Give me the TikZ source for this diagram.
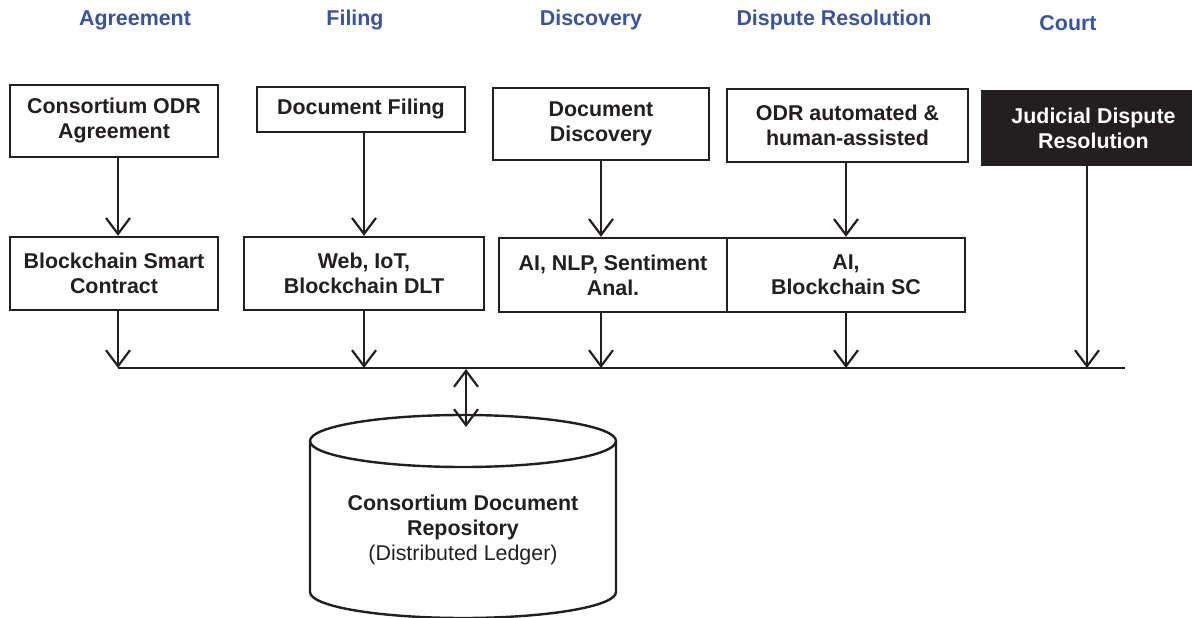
\documentclass[tikz,border=0pt]{standalone}
\usepackage{fontspec}
\setmainfont{Liberation Sans}
\usetikzlibrary{arrows.meta}
\definecolor{ink}{RGB}{35,31,32}
\definecolor{headblue}{RGB}{57,83,164}
\begin{document}
\begin{tikzpicture}[x=1pt,y=-1pt,
  every node/.style={font=\fontsize{21.4}{25}\selectfont\bfseries, text=ink},
  box/.style={draw=ink, line width=2.4pt, align=center, inner sep=0pt},
  blackbox/.style={box, fill=ink, text=white},
  head/.style={text=headblue},
  tip/.tip={Straight Barb[length=16pt,width=24pt,line width=2.2pt]},
  arr/.style={draw=ink, line width=2.2pt, -tip},
  dblarr/.style={draw=ink, line width=2.2pt, tip-tip},
  bus/.style={draw=ink, line width=2.8pt},
  cyl/.style={draw=ink, line width=2.4pt},
  lower/.style={text depth=0pt, text height=14pt},
]
\useasboundingbox (0,0) rectangle (1192,618);

% headers
\node[head] (h1) at (135,20) {Agreement};
\node[head] (h2) at (355,20) {Filing};
\node[head] (h3) at (591,20) {Discovery};
\node[head] (h4) at (834,20) {Dispute Resolution};
\node[head] (h5) at (1068,23) {Court};

% row 1
\node[box, minimum width=208, minimum height=72] (a1) at (114,121) {Consortium ODR\\Agreement};
\node[box, minimum width=208, minimum height=45] (b1) at (361,109.5) {Document Filing};
\node[box, minimum width=216, minimum height=72] (c1) at (601,124) {Document\\Discovery};
\node[box, minimum width=241, minimum height=73] (d1) at (847.5,125.5) {ODR automated \&\\human-assisted};
\node[blackbox, minimum width=222, minimum height=74] (e1) at (1093.5,128) {Judicial Dispute\\Resolution};

% row 2
\node[box, minimum width=208, minimum height=73] (a2) at (114,273.5) {Blockchain Smart\\Contract};
\node[box, minimum width=240, minimum height=73] (b2) at (364,273.5) {Web, IoT,\\Blockchain DLT};
\node[box, minimum width=228, minimum height=74] (c2) at (613,275) {AI, NLP, Sentiment\\Anal.};
\node[box, minimum width=238, minimum height=74] (d2) at (846,275) {AI,\\Blockchain SC};

% bus
\coordinate (busL) at (118,368);
\coordinate (busR) at (1125,368);
\draw[bus] (busL) -- (busR);

% arrows row1 -> row2
\draw[arr] ([xshift=4]a1.south) -- ([xshift=4]a1.south |- a2.north);
\draw[arr] ([xshift=3]b1.south) -- ([xshift=3]b1.south |- b2.north);
\draw[arr] (c1.south) -- (c1.south |- c2.north);
\draw[arr] ([xshift=-1.5]d1.south) -- ([xshift=-1.5]d1.south |- d2.north);

% arrows to bus
\draw[arr] ([xshift=4]a2.south) -- ([xshift=4]a2.south |- busL);
\draw[arr] (b2.south) -- (b2.south |- busL);
\draw[arr] (c1.south |- c2.south) -- (c1.south |- busL);
\draw[arr] (d2.south) -- (d2.south |- busL);
\draw[arr] ([xshift=-6.5]e1.south) -- ([xshift=-6.5]e1.south |- busL);

% repository cylinder
\draw[cyl] (463,441) ellipse [x radius=153pt, y radius=26pt];
\draw[cyl] (310,441) -- (310,592) arc[start angle=180, end angle=360, x radius=153pt, y radius=26pt] -- (616,441);
\node[align=center] (repo) at (463,530) {Consortium Document\\Repository\\{\mdseries (Distributed Ledger)}};

% bus <-> repository
\coordinate (busM) at (466,369);
\coordinate (cylTop) at (466,427);
\draw[dblarr] (busM) -- (cylTop);
\end{tikzpicture}
\end{document}
